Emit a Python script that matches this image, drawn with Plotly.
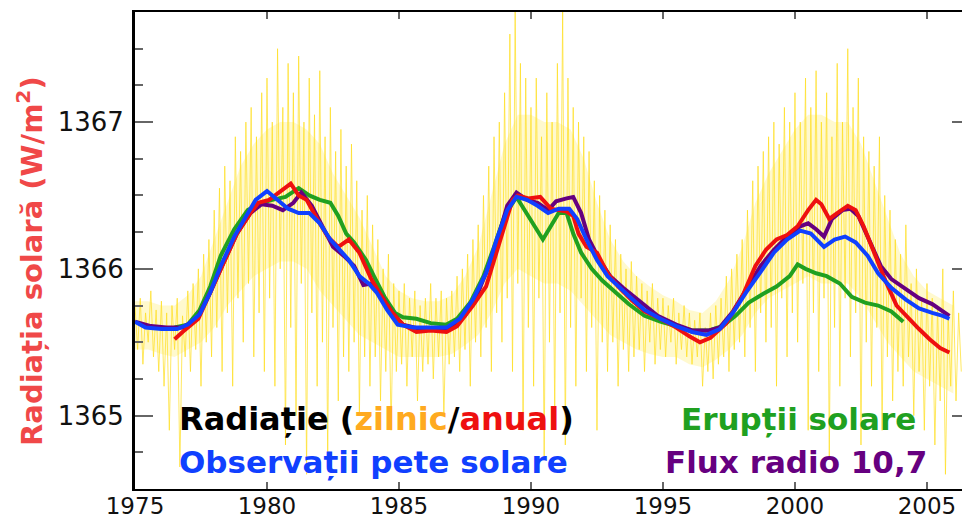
import plotly.graph_objects as go

# ---------------- data ----------------
# daily irradiance (sampled every 0.1 yr, extremes read from picture)
daily_start = 1975.0
daily_step = 0.1
daily_values = [
    1365.75, 1365.45, 1365.80, 1365.35, 1365.70, 1365.50, 1365.85, 1365.40, 1365.72, 1365.30,
    1365.78, 1365.20, 1365.70, 1364.90, 1365.75, 1365.45, 1365.80, 1364.65, 1365.68, 1365.40,
    1365.85, 1365.30, 1365.90, 1365.45, 1366.00, 1365.20, 1366.10, 1365.50, 1366.20, 1365.40,
    1366.40, 1365.60, 1366.55, 1365.30, 1366.70, 1365.70, 1366.60, 1365.20, 1366.90, 1365.80,
    1366.80, 1365.50, 1367.00, 1365.90, 1367.10, 1365.40, 1366.90, 1365.70, 1367.20, 1365.30,
    1367.30, 1365.80, 1367.00, 1365.20, 1367.50, 1366.00, 1367.10, 1364.80, 1367.40, 1365.60,
    1367.20, 1365.00, 1367.45, 1365.90, 1367.00, 1364.60, 1367.30, 1365.70, 1367.05, 1365.20,
    1367.35, 1365.50, 1366.90, 1364.70, 1367.10, 1365.60, 1366.80, 1365.10, 1366.95, 1365.40,
    1366.70, 1365.30, 1366.85, 1365.50, 1366.60, 1365.00, 1366.40, 1365.40, 1366.50, 1365.20,
    1366.30, 1365.40, 1366.20, 1365.10, 1366.00, 1365.30, 1366.10, 1364.90, 1365.90, 1365.30,
    1365.85, 1365.35, 1365.90, 1365.20, 1365.80, 1365.40, 1365.85, 1365.10, 1365.75, 1365.30,
    1365.80, 1365.35, 1365.90, 1365.25, 1365.80, 1365.40, 1365.85, 1365.00, 1365.80, 1365.35,
    1365.85, 1365.40, 1365.95, 1365.30, 1366.00, 1365.45, 1366.10, 1365.20, 1366.20, 1365.50,
    1366.30, 1365.40, 1366.50, 1365.60, 1366.70, 1365.30, 1366.90, 1365.70, 1367.00, 1365.50,
    1367.20, 1365.80, 1367.60, 1365.30, 1367.75, 1365.90, 1367.40, 1364.90, 1367.30, 1365.60,
    1367.10, 1365.20, 1367.30, 1365.80, 1366.90, 1364.70, 1367.20, 1365.50, 1367.00, 1365.00,
    1367.40, 1365.70, 1367.75, 1364.80, 1367.30, 1365.60, 1367.10, 1365.20, 1367.00, 1365.80,
    1366.90, 1365.30, 1366.80, 1365.60, 1366.60, 1364.90, 1366.50, 1365.50, 1366.40, 1365.30,
    1366.30, 1365.50, 1366.20, 1365.20, 1366.10, 1365.45, 1366.00, 1365.30, 1366.05, 1365.40,
    1365.95, 1365.45, 1365.90, 1365.30, 1365.85, 1365.50, 1365.90, 1365.35, 1365.80, 1365.45,
    1365.80, 1365.40, 1365.75, 1365.50, 1365.80, 1365.35, 1365.70, 1365.45, 1365.75, 1365.40,
    1365.70, 1365.35, 1365.65, 1365.40, 1365.70, 1365.20, 1365.60, 1365.30, 1365.70, 1365.25,
    1365.75, 1365.35, 1365.80, 1365.40, 1365.95, 1365.30, 1366.00, 1365.45, 1366.10, 1365.50,
    1366.20, 1365.40, 1366.40, 1365.60, 1366.60, 1365.30, 1366.70, 1365.70, 1366.80, 1365.50,
    1366.90, 1365.60, 1367.00, 1365.20, 1366.85, 1365.80, 1367.10, 1365.40, 1367.00, 1365.70,
    1367.20, 1365.50, 1367.00, 1365.90, 1367.30, 1364.90, 1367.10, 1365.70, 1367.35, 1365.30,
    1367.00, 1365.80, 1367.20, 1364.70, 1366.90, 1365.60, 1367.40, 1365.20, 1367.00, 1365.80,
    1367.50, 1365.40, 1367.10, 1365.70, 1367.30, 1364.80, 1366.90, 1365.50, 1366.80, 1365.20,
    1366.70, 1365.60, 1366.90, 1364.90, 1366.50, 1365.40, 1366.40, 1365.10, 1366.20, 1365.30,
    1366.10, 1365.20, 1366.30, 1365.40, 1365.90, 1365.00, 1366.00, 1365.30, 1365.80, 1364.90,
    1365.90, 1365.20, 1365.80, 1364.80, 1365.75, 1365.10, 1366.00, 1364.60, 1365.70, 1365.20,
    1365.85, 1365.10, 1365.70, 1365.30,
]

# dense core of the daily cloud (every 0.5 yr)
core_start = 1975.0
core_step = 0.5
core_high = [1365.78, 1365.78, 1365.75, 1365.75, 1365.82, 1365.95, 1366.20, 1366.45, 1366.70, 1366.85,
             1366.95, 1367.00, 1367.00, 1366.95, 1366.85, 1366.65, 1366.50, 1366.35, 1366.15, 1365.95,
             1365.85, 1365.80, 1365.78, 1365.78, 1365.82, 1365.95, 1366.15, 1366.50, 1366.85, 1367.05,
             1367.05, 1367.00, 1367.00, 1366.95, 1366.75, 1366.45, 1366.20, 1366.05, 1365.95, 1365.88,
             1365.82, 1365.78, 1365.72, 1365.70, 1365.78, 1365.92, 1366.15, 1366.45, 1366.65, 1366.80,
             1366.95, 1367.05, 1367.05, 1367.00, 1367.00, 1366.85, 1366.60, 1366.35, 1366.10, 1365.95,
             1365.85, 1365.80, 1365.75]
core_low = [1365.45, 1365.45, 1365.42, 1365.40, 1365.45, 1365.50, 1365.60, 1365.75, 1365.85, 1365.95,
            1366.00, 1366.05, 1366.05, 1366.00, 1365.85, 1365.75, 1365.65, 1365.55, 1365.50, 1365.45,
            1365.40, 1365.40, 1365.40, 1365.40, 1365.42, 1365.48, 1365.55, 1365.70, 1365.90, 1366.00,
            1365.95, 1365.90, 1365.90, 1365.85, 1365.75, 1365.65, 1365.55, 1365.50, 1365.45, 1365.42,
            1365.40, 1365.40, 1365.35, 1365.33, 1365.38, 1365.45, 1365.55, 1365.70, 1365.80, 1365.85,
            1365.90, 1365.95, 1365.90, 1365.90, 1365.90, 1365.80, 1365.65, 1365.50, 1365.40, 1365.30,
            1365.25, 1365.20, 1365.15]

# annual irradiance (red)
annual_years = [1976.5, 1976.8, 1977.4, 1977.85, 1978.35, 1978.86, 1979.37, 1979.67, 1980.08, 1980.5,
                1980.9, 1981.2, 1981.5, 1981.9, 1982.3, 1982.7, 1983.1, 1983.5, 1983.95, 1984.35,
                1984.75, 1985.15, 1985.66, 1986.2, 1986.8, 1987.2, 1987.8, 1988.3, 1988.7, 1989.0,
                1989.3, 1989.5, 1989.9, 1990.35, 1990.75, 1991.05, 1991.35, 1991.6, 1991.8, 1992.1,
                1992.5, 1992.9, 1993.3, 1993.8, 1994.3, 1994.9, 1995.5, 1996.0, 1996.4, 1996.8,
                1997.4, 1998.0, 1998.5, 1998.9, 1999.3, 1999.7, 2000.1, 2000.5, 2000.8, 2001.0,
                2001.3, 2001.6, 2002.0, 2002.3, 2002.6, 2003.0, 2003.4, 2003.85, 2004.3, 2004.7,
                2005.1, 2005.5, 2005.85]
annual_values = [1365.52, 1365.57, 1365.66, 1365.84, 1366.04, 1366.24, 1366.38, 1366.45, 1366.47, 1366.53,
                 1366.58, 1366.50, 1366.47, 1366.34, 1366.22, 1366.15, 1366.20, 1366.11, 1365.93, 1365.81,
                 1365.70, 1365.62, 1365.57, 1365.58, 1365.57, 1365.61, 1365.75, 1365.88, 1366.11, 1366.29,
                 1366.47, 1366.50, 1366.48, 1366.49, 1366.41, 1366.40, 1366.39, 1366.36, 1366.24, 1366.15,
                 1366.11, 1365.97, 1365.88, 1365.79, 1365.71, 1365.66, 1365.60, 1365.54, 1365.50, 1365.53,
                 1365.63, 1365.81, 1366.02, 1366.13, 1366.20, 1366.23, 1366.29, 1366.40, 1366.47, 1366.44,
                 1366.34, 1366.38, 1366.43, 1366.40, 1366.29, 1366.11, 1365.93, 1365.75, 1365.66, 1365.59,
                 1365.52, 1365.46, 1365.43]

# sunspot-based reconstruction (blue)
sunspot_years = [1975.0, 1975.4, 1976.0, 1976.6, 1977.0, 1977.45, 1977.85, 1978.25, 1978.76, 1979.27,
                 1979.57, 1980.0, 1980.4, 1980.8, 1981.2, 1981.6, 1982.0, 1982.4, 1982.85, 1983.1,
                 1983.5, 1983.85, 1984.15, 1984.55, 1984.95, 1985.55, 1986.2, 1986.8, 1987.3, 1987.8,
                 1988.3, 1988.7, 1989.1, 1989.45, 1989.85, 1990.25, 1990.65, 1991.05, 1991.45, 1991.75,
                 1992.1, 1992.5, 1992.9, 1993.3, 1993.8, 1994.3, 1994.9, 1995.5, 1996.1, 1996.65,
                 1997.15, 1997.65, 1998.15, 1998.7, 1999.2, 1999.7, 2000.2, 2000.6, 2001.1, 2001.5,
                 2001.9, 2002.3, 2002.75, 2003.15, 2003.65, 2004.2, 2004.7, 2005.2, 2005.6, 2005.85]
sunspot_values = [1365.64, 1365.60, 1365.59, 1365.59, 1365.62, 1365.69, 1365.84, 1366.02, 1366.22, 1366.38,
                  1366.47, 1366.53, 1366.47, 1366.41, 1366.38, 1366.38, 1366.31, 1366.20, 1366.11, 1366.06,
                  1365.95, 1365.90, 1365.84, 1365.72, 1365.62, 1365.60, 1365.60, 1365.60, 1365.66, 1365.79,
                  1365.97, 1366.20, 1366.40, 1366.49, 1366.47, 1366.43, 1366.38, 1366.41, 1366.41, 1366.34,
                  1366.20, 1366.06, 1365.95, 1365.88, 1365.80, 1365.72, 1365.66, 1365.61, 1365.57, 1365.55,
                  1365.59, 1365.70, 1365.84, 1365.98, 1366.11, 1366.20, 1366.26, 1366.24, 1366.15, 1366.20,
                  1366.22, 1366.18, 1366.09, 1365.97, 1365.87, 1365.79, 1365.73, 1365.70, 1365.68, 1365.66]

# 10.7 cm radio flux reconstruction (purple)
radio_years = [1975.0, 1975.6, 1976.2, 1976.8, 1977.35, 1977.85, 1978.35, 1978.86, 1979.37, 1979.8,
               1980.2, 1980.6, 1981.0, 1981.3, 1981.7, 1982.1, 1982.5, 1982.9, 1983.3, 1983.65,
               1983.95, 1984.35, 1984.75, 1985.15, 1985.8, 1986.4, 1987.0, 1987.5, 1988.0, 1988.4,
               1988.8, 1989.1, 1989.45, 1989.85, 1990.25, 1990.65, 1990.95, 1991.35, 1991.6, 1991.9,
               1992.2, 1992.6, 1993.0, 1993.5, 1994.1, 1994.8, 1995.5, 1996.1, 1996.75, 1997.15,
               1997.65, 1998.15, 1998.7, 1999.2, 1999.7, 2000.2, 2000.5, 2000.8, 2001.1, 2001.4,
               2001.8, 2002.1, 2002.4, 2002.85, 2003.25, 2003.65, 2004.2, 2004.7, 2005.2, 2005.6,
               2005.85]
radio_values = [1365.64, 1365.61, 1365.60, 1365.60, 1365.66, 1365.84, 1366.04, 1366.24, 1366.38, 1366.44,
                1366.43, 1366.40, 1366.45, 1366.52, 1366.43, 1366.29, 1366.15, 1366.09, 1366.02, 1365.89,
                1365.90, 1365.81, 1365.70, 1365.62, 1365.59, 1365.59, 1365.60, 1365.68, 1365.84, 1366.02,
                1366.24, 1366.43, 1366.52, 1366.47, 1366.45, 1366.40, 1366.46, 1366.48, 1366.49, 1366.38,
                1366.20, 1366.06, 1365.95, 1365.87, 1365.78, 1365.68, 1365.62, 1365.58, 1365.58, 1365.60,
                1365.71, 1365.86, 1366.02, 1366.13, 1366.22, 1366.29, 1366.31, 1366.27, 1366.22, 1366.34,
                1366.40, 1366.41, 1366.36, 1366.18, 1366.02, 1365.93, 1365.86, 1365.80, 1365.76, 1365.71,
                1365.68]

# solar flare reconstruction (green)
flare_years = [1976.5, 1977.0, 1977.45, 1977.85, 1978.25, 1978.76, 1979.27, 1979.8, 1980.2, 1980.7,
               1981.2, 1981.6, 1982.0, 1982.4, 1982.7, 1983.0, 1983.3, 1983.75, 1984.05, 1984.45,
               1984.85, 1985.15, 1985.66, 1986.2, 1986.8, 1987.2, 1987.7, 1988.2, 1988.6, 1989.0,
               1989.45, 1989.75, 1990.15, 1990.45, 1990.75, 1991.05, 1991.35, 1991.6, 1991.9, 1992.3,
               1992.7, 1993.2, 1993.7, 1994.3, 1994.9, 1995.5, 1996.1, 1996.75, 1997.25, 1997.75,
               1998.25, 1998.8, 1999.3, 1999.8, 2000.1, 2000.4, 2000.8, 2001.2, 2001.7, 2002.15,
               2002.65, 2003.15, 2003.65, 2004.1]
flare_values = [1365.60, 1365.62, 1365.72, 1365.88, 1366.09, 1366.27, 1366.40, 1366.45, 1366.47, 1366.49,
                1366.55, 1366.50, 1366.47, 1366.45, 1366.36, 1366.24, 1366.18, 1366.06, 1365.95, 1365.81,
                1365.70, 1365.67, 1365.66, 1365.63, 1365.62, 1365.66, 1365.77, 1365.95, 1366.15, 1366.36,
                1366.49, 1366.40, 1366.29, 1366.20, 1366.29, 1366.38, 1366.38, 1366.24, 1366.11, 1366.00,
                1365.92, 1365.84, 1365.76, 1365.68, 1365.64, 1365.61, 1365.58, 1365.58, 1365.61, 1365.68,
                1365.77, 1365.83, 1365.88, 1365.95, 1366.03, 1366.00, 1365.97, 1365.95, 1365.90, 1365.81,
                1365.77, 1365.75, 1365.71, 1365.64]

x_ticks = [1975, 1980, 1985, 1990, 1995, 2000, 2005]
y_ticks = [1365, 1366, 1367]

# ---------------- figure ----------------
FONT = "DejaVu Sans"
OFF = 8                      # page offset of the figure (browser body margin)
W, H = 970, 519
L, R, T, B = 127, 8, 4, 38   # plot area on page: x 135..970, y 12..489
PW, PH = W - L - R, H - T - B


def px_x(page_px):
    return (page_px - OFF - L) / PW


def px_y(page_py):
    return (H - B - (page_py - OFF)) / PH


daily_years = [daily_start + i * daily_step for i in range(len(daily_values))]
core_years = [core_start + i * core_step for i in range(len(core_high))]

fig = go.Figure()
fig.add_trace(go.Scatter(x=core_years, y=core_low, mode="lines", line=dict(width=0),
                         hoverinfo="skip", showlegend=False))
fig.add_trace(go.Scatter(x=core_years, y=core_high, mode="lines", line=dict(width=0),
                         fill="tonexty", fillcolor="rgba(255,232,60,0.25)",
                         hoverinfo="skip", showlegend=False))
fig.add_trace(go.Scatter(x=daily_years, y=daily_values, mode="lines",
                         line=dict(color="rgba(255,222,30,0.7)", width=1),
                         hoverinfo="skip", showlegend=False))
fig.add_trace(go.Scatter(x=flare_years, y=flare_values, mode="lines",
                         line=dict(color="#20a020", width=4), showlegend=False))
fig.add_trace(go.Scatter(x=radio_years, y=radio_values, mode="lines",
                         line=dict(color="#660080", width=4), showlegend=False))
fig.add_trace(go.Scatter(x=annual_years, y=annual_values, mode="lines",
                         line=dict(color="#ee1010", width=4), showlegend=False))
fig.add_trace(go.Scatter(x=sunspot_years, y=sunspot_values, mode="lines",
                         line=dict(color="#1040ff", width=4), showlegend=False))

fig.update_layout(
    width=W, height=H,
    margin=dict(l=L, r=R, t=T, b=B),
    paper_bgcolor="white", plot_bgcolor="white",
    font=dict(family=FONT, size=25, color="black"),
    xaxis=dict(range=[1975, 2006.63], tickvals=x_ticks, ticks="inside", ticklen=7,
               tickcolor="#666", tickwidth=2, showline=True, linecolor="black", linewidth=2,
               mirror="ticks", showgrid=False, zeroline=False, automargin=False,
               ticklabelstandoff=-5,
               tickfont=dict(family=FONT, size=23, color="#111")),
    yaxis=dict(range=[1364.5, 1367.75], tickvals=y_ticks, ticks="inside", ticklen=18,
               tickcolor="#666", tickwidth=2, showline=True, linecolor="black", linewidth=3,
               mirror="ticks", showgrid=False, zeroline=False, automargin=False,
               ticklabelstandoff=3,
               tickfont=dict(family=FONT, size=26, color="#111")),
)
fig.update_yaxes(minor=dict(dtick=0.25, tick0=1364.5, ticks="inside", ticklen=8,
                            tickcolor="#666", tickwidth=2, showgrid=False))

# y axis title
fig.add_annotation(text="<b>Radiația solară (W/m<sup>2</sup>)</b>", xref="paper", yref="paper",
                   x=px_x(30), y=px_y(261), xanchor="center", yanchor="middle",
                   textangle=-90, showarrow=False,
                   font=dict(family=FONT, size=29, color="#f04848"))

# legend texts
fig.add_annotation(text="<b>Radiație (<span style='color:#ffaa20'>zilnic</span>/"
                        "<span style='color:#ee1010'>anual</span>)</b>",
                   xref="paper", yref="paper", x=px_x(177), y=px_y(419),
                   xanchor="left", yanchor="middle", showarrow=False,
                   font=dict(family=FONT, size=32, color="black"))
fig.add_annotation(text="<b>Observații pete solare</b>",
                   xref="paper", yref="paper", x=px_x(177), y=px_y(462),
                   xanchor="left", yanchor="middle", showarrow=False,
                   font=dict(family=FONT, size=31, color="#1040ff"))
fig.add_annotation(text="<b>Erupții solare</b>",
                   xref="paper", yref="paper", x=px_x(679), y=px_y(419),
                   xanchor="left", yanchor="middle", showarrow=False,
                   font=dict(family=FONT, size=31, color="#20a020"))
fig.add_annotation(text="<b>Flux radio 10,7</b>",
                   xref="paper", yref="paper", x=px_x(663), y=px_y(462),
                   xanchor="left", yanchor="middle", showarrow=False,
                   font=dict(family=FONT, size=31, color="#660080"))

fig.write_html("out.html")
